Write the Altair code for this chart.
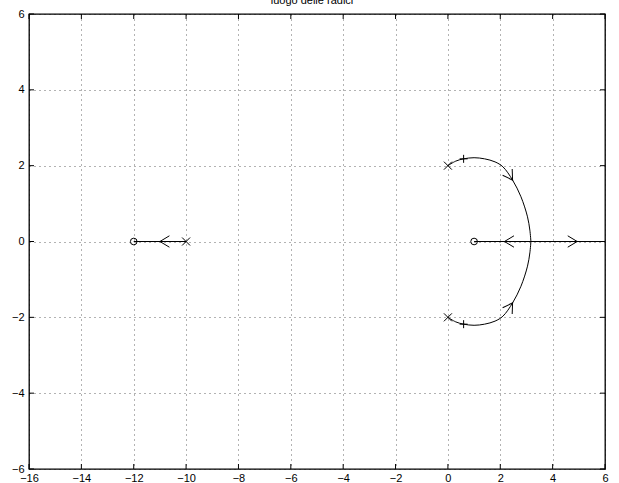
import altair as alt
import pandas as pd

# Axis ticks
x_ticks = [-16, -14, -12, -10, -8, -6, -4, -2, 0, 2, 4, 6]
y_ticks = [-6, -4, -2, 0, 2, 4, 6]

# Locus branches (real part, imaginary part)
left_x = [-10.0, -12.0]
left_y = [0.0, 0.0]

upper_x = [0.00, 0.30, 0.60, 1.00, 1.40, 1.80, 2.10, 2.47, 2.79, 3.04, 3.13, 3.17]
upper_y = [2.00, 2.12, 2.18, 2.21, 2.18, 2.10, 1.97, 1.62, 1.18, 0.65, 0.30, 0.00]

lower_x = [0.00, 0.30, 0.60, 1.00, 1.40, 1.80, 2.10, 2.47, 2.79, 3.04, 3.13, 3.17]
lower_y = [-2.00, -2.12, -2.18, -2.21, -2.18, -2.10, -1.97, -1.62, -1.18, -0.65, -0.30, 0.00]

right_x = [1.0, 6.0]
right_y = [0.0, 0.0]

# Open-loop poles, zeros and marked gain points
pole_x = [0.0, 0.0, -10.0]
pole_y = [2.0, -2.0, 0.0]
zero_x = [1.0, -12.0]
zero_y = [0.0, 0.0]
gain_x = [0.60, 0.60]
gain_y = [2.18, -2.18]

# Direction arrows along the branches (angle in degrees, clockwise on screen)
arrow_x = [-11.0, 2.16, 4.94, 2.47, 2.47]
arrow_y = [0.0, 0.0, 0.0, 1.62, -1.62]
arrow_angle = [180, 180, 0, 57, 303]

W, H = 576, 455
TICK = 5
FONT = "Liberation Sans"

rows = []
for name, xs, ys in [("left", left_x, left_y), ("upper", upper_x, upper_y),
                     ("lower", lower_x, lower_y), ("right", right_x, right_y)]:
    for i, (a, b) in enumerate(zip(xs, ys)):
        rows.append({"branch": name, "order": i, "x": a, "y": b})
branches = pd.DataFrame(rows)

poles = pd.DataFrame({"x": pole_x, "y": pole_y})
zeros = pd.DataFrame({"x": zero_x, "y": zero_y})
gains = pd.DataFrame({"x": gain_x, "y": gain_y})
arrows = pd.DataFrame({"x": arrow_x, "y": arrow_y, "angle": arrow_angle})
xt = pd.DataFrame({"x": x_ticks})
yt = pd.DataFrame({"y": y_ticks})

xs = alt.Scale(domain=[-16, 6], nice=False, zero=False)
ys = alt.Scale(domain=[-6, 6], nice=False, zero=False)

grid_style = dict(grid=True, gridColor="#000000", gridDash=[1, 4], gridWidth=1,
                  gridOpacity=0.6, ticks=False, domain=False, title=None,
                  labelFont=FONT, labelFontSize=11, labelColor="black",
                  labelOverlap=False)
xax = alt.Axis(values=x_ticks, labelPadding=3, labelFlush=False, **grid_style)
yax = alt.Axis(values=y_ticks, labelPadding=5, **grid_style)

X = alt.X("x:Q", scale=xs, axis=xax)
Y = alt.Y("y:Q", scale=ys, axis=yax)

lines = alt.Chart(branches).mark_line(
    color="black", strokeWidth=1, interpolate="catmull-rom"
).encode(x=X, y=Y, detail="branch:N", order="order:Q")

x_path = "M -1 -1 L 1 1 M -1 1 L 1 -1"
plus_path = "M -1 0 L 1 0 M 0 -1 L 0 1"
chevron = "M -1 -0.6 L 0 0 L -1 0.6"

pole_marks = alt.Chart(poles).mark_point(
    shape=x_path, size=64, filled=False, stroke="black", strokeWidth=1, opacity=1
).encode(x=X, y=Y)

zero_marks = alt.Chart(zeros).mark_point(
    shape="circle", size=44, filled=False, stroke="black", strokeWidth=1, opacity=1
).encode(x=X, y=Y)

gain_marks = alt.Chart(gains).mark_point(
    shape=plus_path, size=64, filled=False, stroke="black", strokeWidth=1, opacity=1
).encode(x=X, y=Y)

arrow_marks = alt.Chart(arrows).mark_point(
    shape=chevron, size=361, filled=False, stroke="black", strokeWidth=1, opacity=1
).encode(x=X, y=Y, angle=alt.Angle("angle:Q", scale=None))

# Inward tick marks on all four sides of the frame
tick_top = alt.Chart(xt).mark_rule(color="black", strokeWidth=1).encode(
    x=X, y=alt.value(0), y2=alt.value(TICK))
tick_bottom = alt.Chart(xt).mark_rule(color="black", strokeWidth=1).encode(
    x=X, y=alt.value(H - TICK), y2=alt.value(H))
tick_left = alt.Chart(yt).mark_rule(color="black", strokeWidth=1).encode(
    y=Y, x=alt.value(0), x2=alt.value(TICK))
tick_right = alt.Chart(yt).mark_rule(color="black", strokeWidth=1).encode(
    y=Y, x=alt.value(W - TICK), x2=alt.value(W))

chart = alt.layer(
    tick_top, tick_bottom, tick_left, tick_right,
    lines, pole_marks, zero_marks, gain_marks, arrow_marks
).properties(
    width=W, height=H,
    title=alt.TitleParams("luogo delle radici", font=FONT, fontSize=11,
                          fontWeight="normal", color="black", anchor="middle",
                          baseline="alphabetic", offset=0, dy=7, dx=-5),
    autosize=alt.AutoSizeParams(type="none"),
    padding={"left": 29, "top": 14, "right": 14, "bottom": 14},
).configure_view(stroke="black", strokeWidth=1.3)

chart.save("out.html", embed_options={"renderer": "svg", "actions": False})
